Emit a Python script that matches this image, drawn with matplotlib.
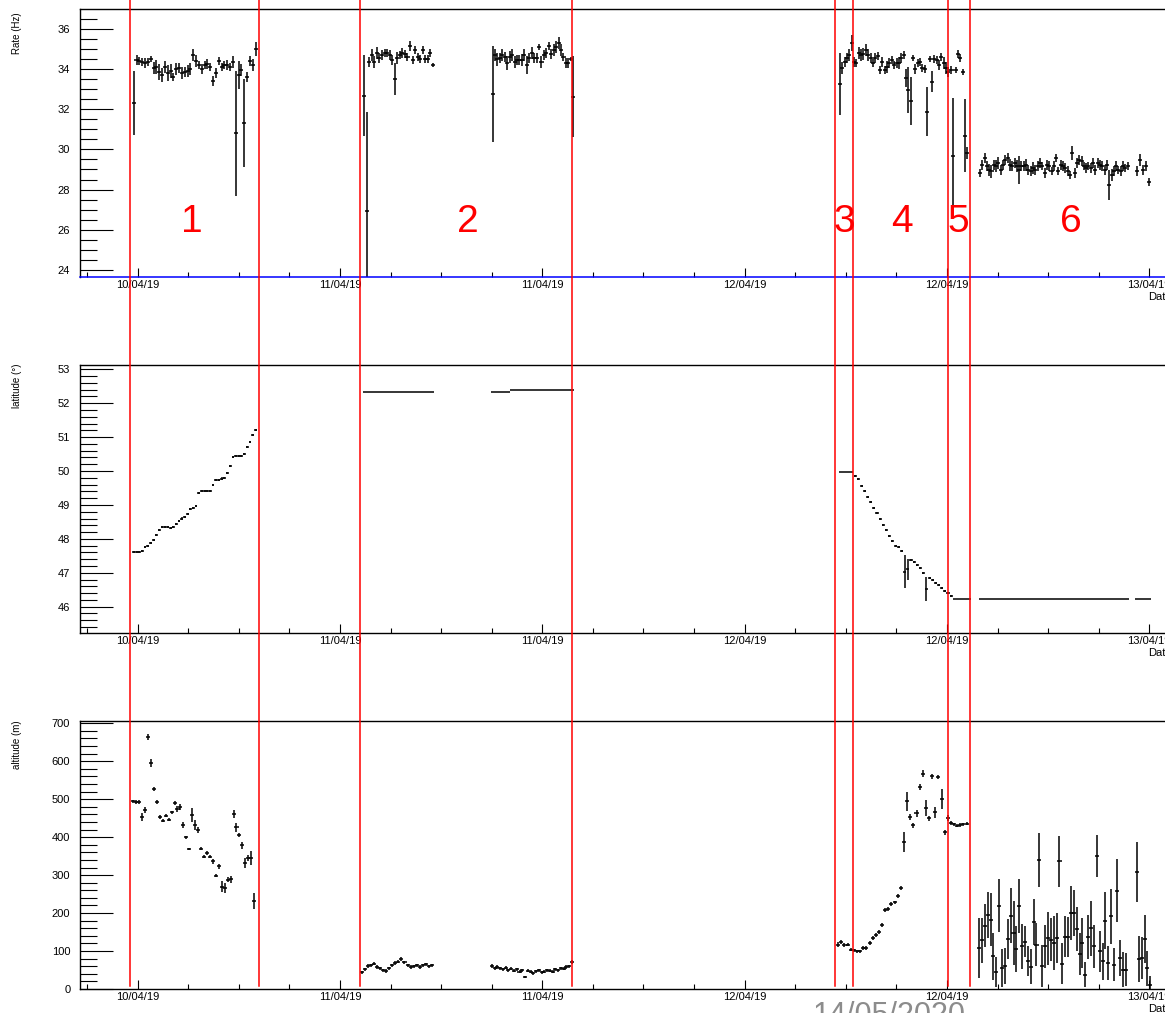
import numpy as np
import matplotlib
matplotlib.use("Agg")
import matplotlib.pyplot as plt
import matplotlib.transforms as mtransforms
from matplotlib.lines import Line2D
from matplotlib.ticker import FixedLocator, MultipleLocator

plt.rcParams["font.family"] = ["Liberation Sans", "DejaVu Sans"]

# time axis: hours since 10/04/19 12:00
date_ticks = [0, 12, 24, 36, 48, 60]
date_labels = ["10/04/19", "11/04/19", "11/04/19", "12/04/19", "12/04/19", "13/04/19"]

# run boundaries (hours) and run numbers
boundaries = [-0.46, 7.19, 13.19, 25.76, 41.36, 42.43, 48.06, 49.36]
run_names = ["1", "2", "3", "4", "5", "6"]
run_label_x = [3.22, 19.59, 41.89, 45.33, 48.66, 55.35]
run_label_y = 25.89

# ---- rate (Hz), each run stored with its time span (bin edges, hours)
rate1_span = (-0.32, 7.08)
rate1 = [32.3, 34.45, 34.4, 34.35, 34.3, 34.35, 34.5,
         34.05, 34.1, 33.85, 33.7, 34.1, 33.8, 33.9, 33.6, 34.0, 34.05, 33.8, 33.85, 33.9, 34.0,
         34.7, 34.4, 34.2, 34.0, 34.2, 34.25, 34.1,
         33.4, 33.8, 34.4, 34.1, 34.2, 34.2, 34.1, 34.35,
         30.8, 33.7, 33.95, 31.3, 33.6, 34.4, 34.2, 35.0]
rate1_err = [1.6, 0.25, 0.2, 0.2, 0.25, 0.2, 0.15,
             0.3, 0.35, 0.4, 0.35, 0.3, 0.4, 0.35, 0.2, 0.3, 0.25, 0.3, 0.25, 0.3, 0.3,
             0.3, 0.3, 0.2, 0.25, 0.2, 0.25, 0.2,
             0.25, 0.25, 0.2, 0.2, 0.2, 0.25, 0.2, 0.3,
             3.1, 0.7, 0.3, 2.2, 0.25, 0.25, 0.3, 0.35]

rate2a_span = (13.36, 17.59)
rate2a = [32.67, 26.95, 34.36, 34.7, 34.36, 34.78, 34.53, 34.7, 34.81, 34.78, 34.7, 34.45,
          33.5, 34.53, 34.7, 34.78, 34.73, 34.6, 35.14, 34.45, 34.95, 34.6, 34.47, 34.95,
          34.47, 34.47, 34.81, 34.2]
rate2a_err = [2.0, 4.9, 0.25, 0.3, 0.3, 0.3, 0.25, 0.25, 0.2, 0.2, 0.25, 0.25,
              0.8, 0.3, 0.2, 0.25, 0.2, 0.2, 0.25, 0.2, 0.2, 0.2, 0.2, 0.2,
              0.2, 0.2, 0.2, 0.1]

rate2b_span = (20.98, 25.91)
rate2b = [32.76, 34.7, 34.47, 34.53, 34.7, 34.6, 34.28, 34.6, 34.7, 34.36, 34.45, 34.45,
          34.45, 34.7, 34.2, 34.53, 34.78, 34.53, 34.53, 35.1, 34.36, 34.7, 34.81, 35.15,
          34.75, 34.95, 35.1, 35.3, 34.95, 34.6, 34.28, 34.28, 34.47, 32.62]
rate2b_err = [2.4, 0.3, 0.3, 0.25, 0.3, 0.25, 0.35, 0.3, 0.3, 0.3, 0.25, 0.25,
              0.3, 0.3, 0.45, 0.25, 0.3, 0.25, 0.25, 0.15, 0.3, 0.25, 0.25, 0.2,
              0.25, 0.3, 0.3, 0.3, 0.3, 0.2, 0.25, 0.25, 0.1, 2.0]

rate345_span = (41.58, 49.28)
rate345 = [33.25, 34.03, 34.36, 34.53, 34.7, 35.31, 34.36, 34.28, 34.78, 34.7,
           34.75, 34.95, 34.7, 34.53, 34.28, 34.53, 34.65, 33.95, 34.36, 33.95,
           34.11, 34.28, 34.45, 34.2, 34.28, 34.28, 34.53, 34.7, 33.53, 32.95,
           32.42, 34.53, 33.98, 34.28, 34.36, 34.03, 33.98, 31.88, 34.47, 33.37,
           34.47, 34.45, 34.2, 34.6, 34.28, 34.03, 33.86, 33.95, 29.67, 33.95,
           34.75, 34.53, 33.86, 30.67, 29.8]
rate345_err = [1.53, 0.3, 0.25, 0.25, 0.3, 0.4, 0.25, 0.2, 0.3, 0.3,
               0.3, 0.3, 0.3, 0.25, 0.2, 0.25, 0.2, 0.2, 0.25, 0.2,
               0.3, 0.25, 0.2, 0.2, 0.25, 0.3, 0.25, 0.2, 0.45, 1.16,
               1.2, 0.15, 0.25, 0.2, 0.2, 0.2, 0.2, 1.24, 0.15, 0.54,
               0.2, 0.2, 0.25, 0.2, 0.3, 0.3, 0.25, 0.2, 2.87, 0.15,
               0.2, 0.2, 0.15, 1.82, 0.3]

rate6a_span = (49.89, 58.79)
rate6a = [28.81, 29.23, 29.56, 29.15, 28.98, 28.9, 29.23, 29.15, 29.31, 28.98,
          29.23, 29.48, 29.56, 29.23, 29.15, 29.31, 29.15, 28.98, 29.15, 29.15,
          29.23, 28.98, 28.9, 29.06, 28.98, 29.15, 29.31, 29.15, 28.81, 29.23,
          29.15, 28.9, 29.15, 29.56, 28.9, 29.23, 29.15, 29.06, 28.9, 28.73,
          29.81, 28.81, 29.31, 29.48, 29.4, 29.15, 29.06, 29.15, 29.06, 29.31,
          28.98, 29.31, 29.23, 29.15, 28.98, 29.23, 28.23, 28.73, 28.9, 29.15,
          28.98, 28.9, 29.15, 29.06, 29.15]
rate6a_err = [0.2, 0.25, 0.25, 0.25, 0.3, 0.3, 0.25, 0.3, 0.3, 0.25,
              0.25, 0.25, 0.25, 0.3, 0.25, 0.25, 0.3, 0.7, 0.25, 0.25,
              0.3, 0.25, 0.25, 0.3, 0.25, 0.25, 0.25, 0.2, 0.25, 0.25,
              0.25, 0.2, 0.25, 0.2, 0.2, 0.25, 0.25, 0.25, 0.25, 0.2,
              0.35, 0.25, 0.25, 0.25, 0.25, 0.2, 0.25, 0.2, 0.25, 0.25,
              0.25, 0.25, 0.25, 0.25, 0.25, 0.25, 0.75, 0.3, 0.25, 0.25,
              0.2, 0.25, 0.25, 0.2, 0.2]

rate6b_span = (59.16, 60.09)
rate6b = [28.9, 29.48, 28.98, 29.15, 28.39]
rate6b_err = [0.25, 0.3, 0.25, 0.25, 0.2]

# ---- latitude (deg)
lat1_span = rate1_span
lat1 = [47.62, 47.62, 47.62, 47.65, 47.75, 47.8, 47.88, 47.98, 48.12, 48.25,
        48.36, 48.36, 48.36, 48.33, 48.36, 48.44, 48.52, 48.6, 48.65, 48.74,
        48.87, 48.92, 48.98, 49.35, 49.42, 49.42, 49.42, 49.42, 49.6, 49.75,
        49.75, 49.78, 49.8, 49.95, 50.15, 50.4, 50.45, 50.45, 50.45, 50.5,
        50.7, 50.85, 51.05, 51.2]
lat1_err = 0.03

lat2a_span = (13.36, 17.59)
lat2a = [52.34, 52.34, 52.34, 52.34]

lat2b_span = (20.98, 25.91)
lat2b = [52.34, 52.34, 52.39, 52.39, 52.39, 52.39, 52.39, 52.39, 52.39]

lat3_span = (41.58, 42.44)
lat3 = [49.96, 49.96, 49.96, 49.96, 49.96]

lat45_span = (42.48, 48.34)
lat45 = [49.86, 49.76, 49.57, 49.41, 49.24, 49.08, 48.92, 48.75, 48.58, 48.41,
         48.26, 48.09, 47.94, 47.79, 47.77, 47.65, 47.03, 47.1, 47.38, 47.33,
         47.23, 47.13, 46.98, 46.53, 46.86, 46.79, 46.71, 46.64, 46.56, 46.47,
         46.39, 46.32]
lat45_err = [0.03] * 16 + [0.48, 0.3] + [0.03] * 5 + [0.35] + [0.03] * 8

lat5_span = (48.34, 49.43)
lat5 = [46.23, 46.23, 46.23, 46.23]

lat6a_span = (49.89, 58.79)
lat6a = [46.23, 46.23, 46.23, 46.23, 46.23, 46.23, 46.23, 46.23]
lat6b_span = (59.16, 60.09)
lat6b = [46.23, 46.23]

# ---- altitude (m)
alt1_span = (-0.35, 7.0)
alt1 = [494, 492, 493, 453, 472, 663, 595, 527, 493, 453,
        443, 457, 446, 465, 490, 474, 479, 432, 400, 368,
        459, 432, 419, 369, 349, 358, 349, 336, 298, 323,
        270, 266, 288, 289, 461, 426, 406, 379, 332, 345,
        345, 232]
alt1_err = [5, 5, 6, 10, 8, 8, 11, 6, 5, 5,
            4, 5, 4, 5, 4, 8, 8, 7, 4, 3,
            19, 13, 8, 4, 5, 5, 5, 6, 4, 6,
            15, 12, 7, 9, 10, 12, 5, 9, 14, 8,
            18, 22]

alt2a_span = (13.21, 17.54)
alt2a = [44, 52, 60, 63, 66, 58, 55, 50, 47, 55, 62, 68,
         72, 78, 70, 62, 58, 60, 63, 58, 62, 65, 60, 63]
alt2a_err = [4, 4, 5, 4, 4, 4, 4, 4, 5, 4, 4, 5,
             4, 5, 4, 4, 4, 4, 4, 4, 4, 4, 4, 4]

alt2b_span = (20.93, 25.84)
alt2b = [60, 55, 58, 55, 52, 56, 50, 53, 48, 52, 45, 50, 32, 48, 45,
         42, 47, 50, 44, 46, 50, 48, 45, 52, 50, 55, 53, 58, 60, 72]
alt2b_err = [5, 4, 4, 4, 4, 4, 4, 4, 4, 4, 4, 4, 3, 4, 4,
             4, 4, 4, 4, 4, 4, 4, 4, 4, 4, 4, 4, 4, 4, 5]

alt345_span = (41.46, 49.26)
alt345 = [117, 123, 115, 117, 103, 102, 99, 99, 108, 108,
          121, 134, 143, 150, 169, 209, 210, 224, 228, 246,
          266, 388, 494, 453, 431, 463, 532, 567, 476, 450,
          560, 465, 558, 500, 413, 450, 437, 434, 430, 432,
          434, 435]
alt345_err = [6, 5, 5, 5, 4, 4, 4, 4, 4, 4,
              5, 5, 5, 5, 5, 5, 5, 5, 5, 5,
              6, 26, 24, 8, 7, 9, 8, 9, 21, 7,
              6, 14, 6, 27, 7, 8, 5, 4, 4, 4,
              4, 4]

alt6a_span = (49.82, 58.68)
alt6a = [108, 128, 167, 195, 182, 86, 44, 219, 55, 61,
         132, 193, 147, 105, 219, 112, 125, 73, 59, 177,
         117, 340, 61, 112, 134, 130, 121, 134, 336, 67,
         138, 136, 200, 200, 158, 93, 121, 38, 137, 160,
         112, 351, 99, 73, 180, 68, 191, 64, 259, 82,
         51, 51]
alt6a_err = [79, 59, 56, 61, 70, 61, 39, 70, 50, 48,
             53, 72, 85, 61, 72, 59, 42, 40, 46, 61,
             57, 72, 55, 57, 70, 57, 72, 66, 67, 55,
             55, 53, 72, 60, 59, 55, 66, 33, 59, 72,
             56, 56, 53, 48, 75, 44, 73, 44, 83, 48,
             46, 44]

alt6b_span = (59.18, 60.12)
alt6b = [309, 79, 82, 132, 55, 10]
alt6b_err = [79, 61, 55, 64, 46, 25]


def bin_centres(span, n):
    w = (span[1] - span[0]) / n
    return span[0] + w * (np.arange(n) + 0.5), w / 2


def draw(ax, span, vals, errs, xerr=None):
    x, half = bin_centres(span, len(vals))
    ax.errorbar(x, vals, yerr=errs, xerr=half if xerr is None else xerr,
                fmt="none", ecolor="black", elinewidth=1.1, capsize=0)


def style(ax, ylim, major, minor):
    ax.set_xlim(-3.42, 61.35)
    ax.set_ylim(*ylim)
    ax.xaxis.set_major_locator(FixedLocator(date_ticks))
    ax.set_xticklabels(date_labels)
    ax.xaxis.set_minor_locator(MultipleLocator(3))
    ax.yaxis.set_major_locator(MultipleLocator(major))
    ax.yaxis.set_minor_locator(MultipleLocator(minor))
    ax.tick_params(axis="x", which="major", direction="in", length=6.5, width=0.8,
                   pad=2.5, labelsize=8, top=False)
    ax.tick_params(axis="x", which="minor", direction="in", length=3.6, width=0.8, top=False)
    ax.tick_params(axis="y", which="major", direction="in", length=24, width=0.8,
                   pad=7, labelsize=8, right=False)
    ax.tick_params(axis="y", which="minor", direction="in", length=12, width=0.8, right=False)
    for s in ax.spines.values():
        s.set_linewidth(1.0)
    ax.set_xlabel("Date", loc="right", fontsize=8, labelpad=1)


fig = plt.figure(figsize=(11.65, 10.13), dpi=100)
L, W, H = 80 / 1165, (1172 - 80) / 1165, 268 / 1013
ax_rate = fig.add_axes([L, 1 - 277 / 1013, W, H])
ax_lat = fig.add_axes([L, 1 - 633 / 1013, W, H])
ax_alt = fig.add_axes([L, 1 - 989 / 1013, W, H])

xe = 0.12
draw(ax_rate, rate1_span, rate1, rate1_err, xe)
draw(ax_rate, rate2a_span, rate2a, rate2a_err, xe)
draw(ax_rate, rate2b_span, rate2b, rate2b_err, xe)
draw(ax_rate, rate345_span, rate345, rate345_err, xe)
draw(ax_rate, rate6a_span, rate6a, rate6a_err, xe)
draw(ax_rate, rate6b_span, rate6b, rate6b_err, xe)

draw(ax_lat, lat1_span, lat1, lat1_err)
draw(ax_lat, lat2a_span, lat2a, 0)
draw(ax_lat, lat2b_span, lat2b, 0)
draw(ax_lat, lat3_span, lat3, 0)
draw(ax_lat, lat45_span, lat45, lat45_err)
draw(ax_lat, lat5_span, lat5, 0)
draw(ax_lat, lat6a_span, lat6a, 0)
draw(ax_lat, lat6b_span, lat6b, 0)

draw(ax_alt, alt1_span, alt1, alt1_err, xe)
draw(ax_alt, alt2a_span, alt2a, alt2a_err, xe)
draw(ax_alt, alt2b_span, alt2b, alt2b_err, xe)
draw(ax_alt, alt345_span, alt345, alt345_err, xe)
draw(ax_alt, alt6a_span, alt6a, alt6a_err, xe)
draw(ax_alt, alt6b_span, alt6b, alt6b_err, xe)

style(ax_rate, (23.652, 36.98), 2, 0.5)
style(ax_lat, (45.224, 53.127), 1, 0.2)
style(ax_alt, (0, 706), 100, 20)
ax_rate.spines["bottom"].set_color("blue")
ax_rate.spines["bottom"].set_linewidth(1.1)

fig.text(17 / 1165, 1 - 12 / 1013, "Rate (Hz)", rotation=90, va="top", ha="center", fontsize=7)
fig.text(17 / 1165, 1 - 363 / 1013, "latitude (\u00b0)", rotation=90, va="top", ha="center", fontsize=7)
fig.text(17 / 1165, 1 - 720 / 1013, "altitude (m)", rotation=90, va="top", ha="center", fontsize=7)

# run separators across all three panels
trans = mtransforms.blended_transform_factory(ax_rate.transData, fig.transFigure)
for b in boundaries:
    fig.add_artist(Line2D([b, b], [1 - 986 / 1013, 1.0], transform=trans,
                          color="#ff0000", lw=1.1, zorder=10))

for name, x in zip(run_names, run_label_x):
    ax_rate.text(x, run_label_y, name, color="#ff0000", fontsize=28,
                 ha="center", va="baseline")

fig.text(889 / 1165, -10.5 / 1013, "14/05/2020", color="#8c8c8c", fontsize=22,
         ha="center", va="baseline")

fig.savefig("out.png", dpi=100)
